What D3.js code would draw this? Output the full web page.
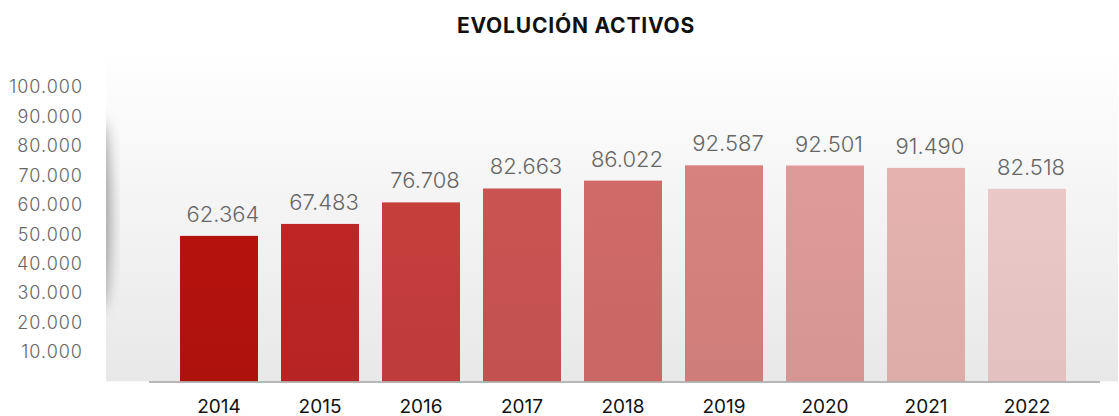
<!DOCTYPE html>
<html>
<head>
<meta charset="utf-8">
<script src="https://cdn.jsdelivr.net/npm/d3@7"></script>
<style>
  html, body { margin: 0; padding: 0; background: #fff; }
  svg { display: block; font-family: Inter, "Open Sans", sans-serif; }
</style>
</head>
<body>
<svg id="chart"></svg>
<script>
// data
const years = ["2014", "2015", "2016", "2017", "2018", "2019", "2020", "2021", "2022"];
const activos = [62364, 67483, 76708, 82663, 86022, 92587, 92501, 91490, 82518];
const barColors = ["#b1120d", "#b92524", "#c13d3b", "#c55250", "#cc6866", "#d27f7c", "#d99795", "#e0aeab", "#e5c4c3"];
const yTicks = [10000, 20000, 30000, 40000, 50000, 60000, 70000, 80000, 90000, 100000];

const width = 1119, height = 416;
const baseline = 381.5;

const svg = d3.select("#chart")
    .attr("width", width)
    .attr("height", height);

const fmt = d3.formatLocale({ decimal: ",", thousands: ".", grouping: [3], currency: ["", "€"] }).format(",d");

const defs = svg.append("defs");

// panel background gradient
const bg = defs.append("linearGradient").attr("id", "bg")
    .attr("x1", 0).attr("y1", 0).attr("x2", 0).attr("y2", 1);
bg.append("stop").attr("offset", "0%").attr("stop-color", "#ffffff");
bg.append("stop").attr("offset", "100%").attr("stop-color", "#e8e8e8");

defs.append("clipPath").attr("id", "panelClip")
    .append("rect").attr("x", 106).attr("y", 48).attr("width", 1012).attr("height", baseline - 48);

defs.append("filter").attr("id", "blur")
    .attr("x", "-50%").attr("y", "-50%").attr("width", "200%").attr("height", "200%")
    .append("feGaussianBlur").attr("stdDeviation", 7);

// bars get a light vertical sheen
barColors.forEach((c, i) => {
    const g = defs.append("linearGradient").attr("id", "bar" + i)
        .attr("x1", 0).attr("y1", 0).attr("x2", 0).attr("y2", 1);
    g.append("stop").attr("offset", "0%").attr("stop-color", d3.color(c).brighter(0.06));
    g.append("stop").attr("offset", "100%").attr("stop-color", d3.color(c).darker(0.04));
});

// background panel with soft left shadow
const panel = svg.append("g").attr("clip-path", "url(#panelClip)");
panel.append("rect")
    .attr("x", 106).attr("y", 48).attr("width", 1012).attr("height", baseline - 48)
    .attr("fill", "url(#bg)");
panel.append("ellipse")
    .attr("cx", 100).attr("cy", 215).attr("rx", 10).attr("ry", 95)
    .attr("fill", "#9a9a9a")
    .attr("filter", "url(#blur)");

// scales
const x = d3.scaleBand()
    .domain(years)
    .range([168.5, 1077.5])
    .paddingInner(0.228)
    .paddingOuter(0.114);

const yAxisScale = d3.scaleLinear()
    .domain([0, 100000])
    .range([baseline, 87]);

// the bars are drawn on their own, shorter scale in the original
const yBar = d3.scaleLinear()
    .domain([0, 100000])
    .range([baseline, baseline - 233.5]);

// title
svg.append("text")
    .attr("x", 576).attr("y", 33)
    .attr("text-anchor", "middle")
    .attr("font-size", 21)
    .attr("font-weight", 700)
    .attr("letter-spacing", 0.8)
    .attr("fill", "#111")
    .text("EVOLUCIÓN ACTIVOS");

// y axis labels
const yAxis = svg.append("g")
    .attr("transform", "translate(83,0)")
    .call(d3.axisLeft(yAxisScale).tickValues(yTicks).tickSize(0).tickPadding(0).tickFormat(fmt));
yAxis.select(".domain").remove();
yAxis.selectAll("text")
    .attr("font-family", "Inter, sans-serif")
    .attr("font-size", 18)
    .attr("font-weight", 300)
    .attr("letter-spacing", 1)
    .attr("fill", "#666");

// bars
svg.selectAll(".bar")
    .data(activos)
    .enter()
    .append("rect")
    .attr("class", "bar")
    .attr("x", (d, i) => x(years[i]))
    .attr("y", d => yBar(d))
    .attr("width", x.bandwidth())
    .attr("height", d => baseline - yBar(d))
    .attr("fill", (d, i) => "url(#bar" + i + ")");

// value labels
svg.selectAll(".val")
    .data(activos)
    .enter()
    .append("text")
    .attr("class", "val")
    .attr("x", (d, i) => x(years[i]) + x.bandwidth() / 2 + 4)
    .attr("y", d => yBar(d) - 14)
    .attr("text-anchor", "middle")
    .attr("font-size", 22)
    .attr("font-weight", 300)
    .attr("fill", "#666")
    .text(d => fmt(d));

// x axis line
svg.append("line")
    .attr("x1", 149).attr("x2", 1100)
    .attr("y1", baseline + 0.5).attr("y2", baseline + 0.5)
    .attr("stroke", "#a0a0a0")
    .attr("stroke-width", 1.5);

// x axis labels
const xAxis = svg.append("g")
    .attr("transform", `translate(0,${baseline})`)
    .call(d3.axisBottom(x).tickSize(0).tickPadding(0));
xAxis.select(".domain").remove();
xAxis.selectAll("text")
    .attr("dy", null)
    .attr("y", 31)
    .attr("font-family", "Inter, sans-serif")
    .attr("font-size", 19)
    .attr("font-weight", 400)
    .attr("fill", "#111");
</script>
</body>
</html>
